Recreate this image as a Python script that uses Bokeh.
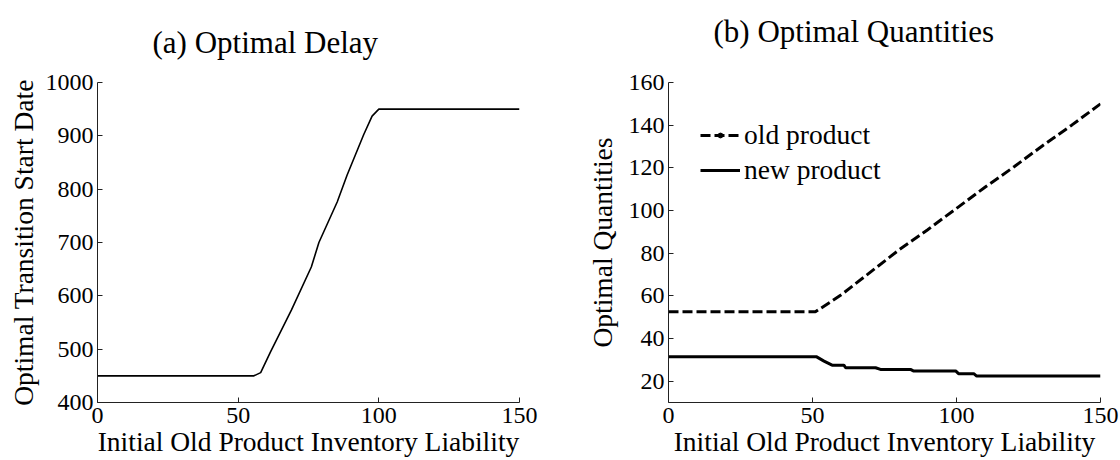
from bokeh.plotting import figure
from bokeh.layouts import row
from bokeh.models import Range1d, FixedTicker, Legend, LegendItem, Title
from bokeh.embed import file_html
from bokeh.resources import INLINE

# ---- data ----
delay_x = [0, 20, 40, 55.6, 58, 61.5, 69, 76, 78.7, 85.2, 88.7, 94.6, 97.6, 100, 120, 150]
delay_y = [450, 450, 450, 450, 456, 495, 574, 654, 700, 776, 826, 902, 937, 950, 950, 950]

old_x = [0, 25, 51, 60, 70, 80, 90, 100, 110, 120, 130, 140, 150]
old_y = [52.5, 52.5, 52.5, 60.5, 71, 81.5, 91, 101, 111, 120.5, 130.5, 140, 150]

new_x = [0, 25, 51.3, 54, 56.8, 60.9, 61.5, 71.9, 73.6, 84, 85, 99.7, 100.7, 106, 107, 150]
new_y = [31.5, 31.5, 31.5, 29.4, 27.5, 27.5, 26.3, 26.3, 25.5, 25.5, 24.8, 24.8, 23.5, 23.5, 22.4, 22.4]

x_ticks = [0, 50, 100, 150]
delay_ticks = [400, 500, 600, 700, 800, 900, 1000]
qty_ticks = [20, 40, 60, 80, 100, 120, 140, 160]

FONT = "Liberation Serif"
TICK_SIZE = "24px"
LABEL_SIZE = "27.5px"
TITLE_SIZE = "31px"


def style(p, xticks, yticks, title_offset, spacer_size):
    p.outline_line_color = None
    p.background_fill_color = "white"
    p.border_fill_color = "white"
    p.xgrid.visible = False
    p.ygrid.visible = False
    for ax, ticks in ((p.xaxis[0], xticks), (p.yaxis[0], yticks)):
        ax.ticker = FixedTicker(ticks=ticks)
        ax.axis_line_color = "#222222"
        ax.axis_line_width = 1
        ax.major_tick_line_color = "#222222"
        ax.major_tick_in = 5
        ax.major_tick_out = 0
        ax.minor_tick_line_color = None
        ax.major_label_text_font = FONT
        ax.major_label_text_font_size = TICK_SIZE
        ax.major_label_text_color = "black"
        ax.axis_label_text_font = FONT
        ax.axis_label_text_font_size = LABEL_SIZE
        ax.axis_label_text_font_style = "normal"
        ax.axis_label_text_color = "black"
    p.xaxis[0].major_label_standoff = 5
    p.yaxis[0].major_label_standoff = 4
    p.xaxis[0].axis_label_standoff = 0
    p.yaxis[0].axis_label_standoff = 4
    p.title.text_font = FONT
    p.title.text_font_size = TITLE_SIZE
    p.title.text_font_style = "normal"
    p.title.text_color = "black"
    p.title.align = "left"
    p.title.offset = title_offset
    # empty spacer between the title and the frame
    p.add_layout(Title(text=" ", text_font_size=spacer_size), "above")


# ---- (a) Optimal Delay ----
p1 = figure(width=560, height=460, output_backend="svg", toolbar_location=None,
            x_range=Range1d(0, 150), y_range=Range1d(400, 1000),
            title="(a) Optimal Delay",
            x_axis_label="Initial Old Product Inventory Liability",
            y_axis_label="Optimal Transition Start Date",
            min_border_left=97, min_border_right=41,
            min_border_top=75, min_border_bottom=58)
style(p1, x_ticks, delay_ticks, 55, "6px")
p1.line(delay_x, delay_y, line_color="black", line_width=1.6)

# ---- (b) Optimal Quantities ----
p2 = figure(width=560, height=460, output_backend="svg", toolbar_location=None,
            x_range=Range1d(0, 150), y_range=Range1d(10, 160),
            title="(b) Optimal Quantities",
            x_axis_label="Initial Old Product Inventory Liability",
            y_axis_label="Optimal Quantities",
            min_border_left=108, min_border_right=20,
            min_border_top=82, min_border_bottom=58)
style(p2, x_ticks, qty_ticks, 45, "16px")
p2.yaxis[0].axis_label_standoff = 8
r_old = p2.line(old_x, old_y, line_color="black", line_width=3, line_dash="10 4")
r_new = p2.line(new_x, new_y, line_color="black", line_width=3)
r_dot = p2.scatter([float("nan")], [float("nan")], size=4, marker="circle",
                   fill_color="black", line_color="black")

legend = Legend(items=[LegendItem(label="old product", renderers=[r_old, r_dot]),
                       LegendItem(label="new product", renderers=[r_new])],
                location=(32, 215), orientation="vertical")
legend.label_text_font = FONT
legend.label_text_font_size = LABEL_SIZE
legend.label_text_color = "black"
legend.label_standoff = 4
legend.glyph_width = 40
legend.glyph_height = 12
legend.label_height = 35
legend.spacing = 0
legend.padding = 0
legend.margin = 0
legend.border_line_color = None
legend.background_fill_alpha = 0
p2.add_layout(legend)

layout = row(p1, p2)

open("out.html", "w").write(file_html(layout, INLINE))
